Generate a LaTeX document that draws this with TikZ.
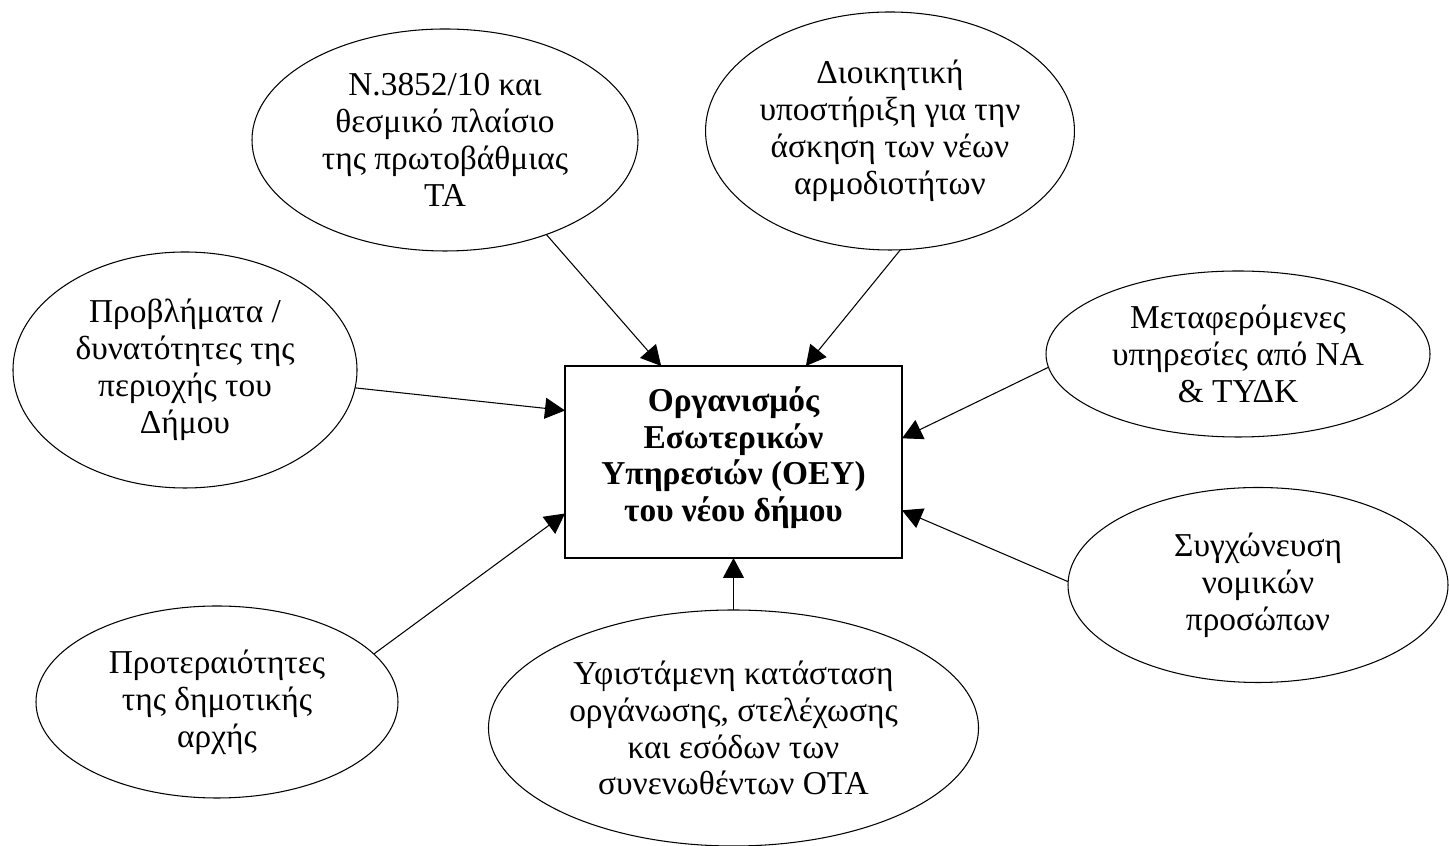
\documentclass[tikz,border=0pt]{standalone}
\usepackage{fontspec}
\setmainfont{Liberation Serif}
\usepackage{tikz}
\usetikzlibrary{shapes.geometric}
\usetikzlibrary{arrows.meta}

\tikzset{
  bubble/.style={draw, ellipse, line width=0.6pt, inner sep=0pt, outer sep=0pt,
    align=center, font=\fontsize{19}{21}\selectfont},
  mainbox/.style={draw, rectangle, line width=0.8pt, inner sep=0pt, outer sep=0pt,
    align=center, font=\fontsize{19}{21}\selectfont\bfseries},
  feed/.style={-{Triangle[length=0.4cm,width=0.42cm]}, line width=0.6pt}
}

\begin{document}
\begin{tikzpicture}

\useasboundingbox (0,0) rectangle (28.98,16.92);

\node[mainbox, minimum width=6.74cm, minimum height=3.84cm] (oey) at (14.67, 7.68)
  {Οργανισμός\\Εσωτερικών\\Υπηρεσιών (ΟΕΥ)\\του νέου δήμου\\[-12pt]\mbox{}};

\node[bubble, minimum width=7.72cm, minimum height=4.44cm] (law) at (8.90, 14.12)
  {Ν.3852/10 και\\θεσμικό πλαίσιο\\της πρωτοβάθμιας\\ΤΑ};
\node[bubble, minimum width=7.32cm, minimum height=4.76cm] (admin) at (17.80, 14.30)
  {Διοικητική\\υποστήριξη για την\\άσκηση των νέων\\αρμοδιοτήτων};
\node[bubble, minimum width=6.88cm, minimum height=4.72cm] (area) at (3.70, 9.52)
  {Προβλήματα /\\δυνατότητες της\\περιοχής του\\Δήμου};
\node[bubble, minimum width=7.68cm, minimum height=3.32cm] (moved) at (24.76, 9.84)
  {Μεταφερόμενες\\υπηρεσίες από ΝΑ\\\& ΤΥΔΚ};
\node[bubble, minimum width=7.60cm, minimum height=3.90cm] (merge) at (25.16, 5.22)
  {Συγχώνευση\\νομικών\\προσώπων};
\node[bubble, minimum width=7.24cm, minimum height=3.84cm] (prio) at (4.34, 2.88)
  {Προτεραιότητες\\της δημοτικής\\αρχής};
\node[bubble, minimum width=9.80cm, minimum height=4.72cm] (state) at (14.67, 2.36)
  {Υφιστάμενη κατάσταση\\οργάνωσης, στελέχωσης\\και εσόδων των\\συνενωθέντων ΟΤΑ};

\draw[feed] (law.-43.5) -- (oey.127.4);
\draw[feed] (admin.-85.2) -- (oey.53.3);
\draw[feed] (area.-6.9) -- (oey.163.8);
\draw[feed] (moved.184) -- (oey.8.4);
\draw[feed] (merge.179) -- (oey.-16.5);
\draw[feed] (prio.17.4) -- (oey.-163.5);
\draw[feed] (state.north) -- (oey.south);

\end{tikzpicture}
\end{document}
